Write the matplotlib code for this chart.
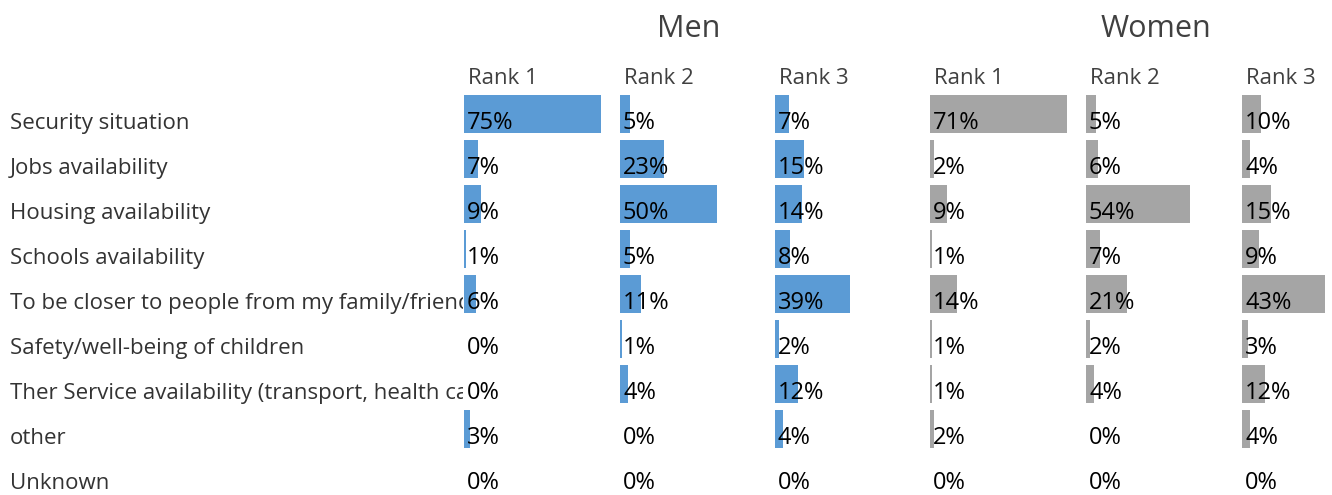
import matplotlib
matplotlib.use("Agg")
import matplotlib.pyplot as plt

plt.rcParams["font.family"] = ["Open Sans", "DejaVu Sans"]

categories = [
    "Security situation",
    "Jobs availability",
    "Housing availability",
    "Schools availability",
    "To be closer to people from my family/friends",
    "Safety/well-being of children",
    "Ther Service availability (transport, health care)",
    "other",
    "Unknown",
]
groups = ["Men", "Women"]
ranks = ["Rank 1", "Rank 2", "Rank 3"]

men_r1 = [75, 7, 9, 1, 6, 0, 0, 3, 0]
men_r2 = [5, 23, 50, 5, 11, 1, 4, 0, 0]
men_r3 = [7, 15, 14, 8, 39, 2, 12, 4, 0]
women_r1 = [71, 2, 9, 1, 14, 1, 1, 2, 0]
women_r2 = [5, 6, 54, 7, 21, 2, 4, 0, 0]
women_r3 = [10, 4, 15, 9, 43, 3, 12, 4, 0]

series = [men_r1, men_r2, men_r3, women_r1, women_r2, women_r3]
colors = ["#5B9BD5"] * 3 + ["#A5A5A5"] * 3

W, H = 1332, 495
fig = plt.figure(figsize=(W / 100, H / 100), dpi=100)

# rows: centre of first bar at y=114 px, step 45 px
row0, step = 114, 45
top_px = row0 - step / 2
ylim = ((H - row0) / step, -0.5)
ax_h = (H - top_px) / H
base_off = 15 / step   # text baseline sits a bit below the bar centre

# category labels, clipped where the first panel starts
lab_ax = fig.add_axes([0, 0, 463 / W, ax_h])
lab_ax.set_xlim(0, 463)
lab_ax.set_ylim(*ylim)
lab_ax.axis("off")
for i, c in enumerate(categories):
    lab_ax.text(10, i + base_off, c, ha="left", va="baseline", fontsize=16,
                color="#333333", clip_on=True)

panel_x = [464, 620, 775, 930, 1086, 1242]
px_per_pct = 1.93
panel_w = 137   # bars longer than this are cut at the panel edge
for k, vals in enumerate(series):
    ax = fig.add_axes([panel_x[k] / W, 0, panel_w / W, ax_h])
    ax.barh(range(len(vals)), vals, height=0.84, color=colors[k])
    ax.set_xlim(0, panel_w / px_per_pct)
    ax.set_ylim(*ylim)
    ax.axis("off")
    for i, v in enumerate(vals):
        ax.text(3 / px_per_pct, i + base_off, f"{v}%", ha="left",
                va="baseline", fontsize=17, color="black")
    fig.text((panel_x[k] + 4) / W, 1 - 84 / H, ranks[k % 3], ha="left",
             va="baseline", fontsize=16, color="#404040")

fig.text(688.5 / W, 1 - 37 / H, groups[0], ha="center", va="baseline",
         fontsize=22, color="#404040")
fig.text(1155.5 / W, 1 - 37 / H, groups[1], ha="center", va="baseline",
         fontsize=22, color="#404040")

fig.savefig("out.png", dpi=100)
